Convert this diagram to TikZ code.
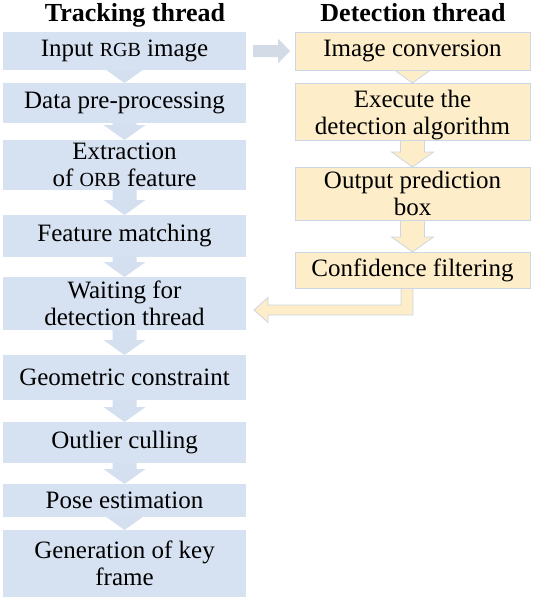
\documentclass[tikz,border=0pt]{standalone}
\usepackage{fontspec}
\setmainfont{Liberation Serif}
\newfontfamily\tnrfont{Liberation Serif}
\usetikzlibrary{calc}
\pgfdeclarelayer{bg}
\pgfsetlayers{bg,main}
\definecolor{bluebox}{HTML}{D6E1F1}
\definecolor{bluearrow}{HTML}{D4DFF0}
\definecolor{yellowbox}{HTML}{FDEDC9}
\definecolor{yellowline}{HTML}{CDD6E4}
\definecolor{greyarrow}{HTML}{D3DBE6}
\tikzset{
  boxbase/.style={inner sep=0pt, outer sep=0pt, align=center, font=\tnrfont\fontsize{25}{27.5}\selectfont, text=black},
  tbox/.style={boxbase, fill=bluebox, minimum width=243pt},
  dbox/.style={boxbase, fill=yellowbox, draw=yellowline, line width=0.8pt, minimum width=235pt},
  titletext/.style={font=\tnrfont\fontsize{26}{28}\selectfont\bfseries, inner sep=0pt, anchor=base},
  barrow/.style={fill=bluearrow},
  yarrow/.style={fill=yellowbox, draw=yellowline, line width=0.8pt},
  harrow/.style={fill=greyarrow},
}
\newcommand\smallcaps[1]{{\fontsize{20}{20}\selectfont #1}}
\newcommand\blockdown[3]{%
  \path[#1] let \p1=(#2.south), \p2=(#3.north) in
    ({\x2-12pt},{\y1+4pt}) -- ({\x2-12pt},{\y2+15pt}) -- ({\x2-21pt},{\y2+15pt}) --
    (\x2,\y2) -- ({\x2+21pt},{\y2+15pt}) -- ({\x2+12pt},{\y2+15pt}) --
    ({\x2+12pt},{\y1+4pt}) -- cycle;}
\begin{document}
\begin{tikzpicture}[x=1pt,y=-1pt]
\useasboundingbox (0,0) rectangle (533,598);
% titles
\node[titletext] (tt) at (135,21) {Tracking thread};
\node[titletext] (dt) at (413,21) {Detection thread};
% tracking thread
\node[tbox, minimum height=38pt] (t1) at (124.5,51) {Input \smallcaps{RGB} image};
\node[tbox, minimum height=40pt] (t2) at (124.5,103) {Data pre-processing};
\node[tbox, minimum height=50pt] (t3) at (124.5,165) {Extraction\\of \smallcaps{ORB} feature};
\node[tbox, minimum height=42pt] (t4) at (124.5,236) {Feature matching};
\node[tbox, minimum height=53pt] (t5) at (124.5,303.5) {Waiting for\\detection thread};
\node[tbox, minimum height=45pt] (t6) at (124.5,377.5) {Geometric constraint};
\node[tbox, minimum height=41pt] (t7) at (124.5,442.5) {Outlier culling};
\node[tbox, minimum height=33pt] (t8) at (124.5,500.5) {Pose estimation};
\node[tbox, minimum height=67pt] (t9) at (124.5,563.5) {Generation of key\\frame};
% detection thread
\node[dbox, minimum height=38pt] (d1) at (412.5,51) {Image conversion};
\node[dbox, minimum height=57pt] (d2) at (412.5,111.5) {\rule{0pt}{24pt}Execute the\\detection algorithm};
\node[dbox, minimum height=53pt] (d3) at (412.5,193.5) {Output prediction\\box};
\node[dbox, minimum height=36pt] (d4) at (412.5,270) {Confidence filtering};
\begin{pgfonlayer}{bg}
  \blockdown{barrow}{t1}{t2}
  \blockdown{barrow}{t2}{t3}
  \blockdown{barrow}{t3}{t4}
  \blockdown{barrow}{t4}{t5}
  \blockdown{barrow}{t5}{t6}
  \blockdown{barrow}{t6}{t7}
  \blockdown{barrow}{t7}{t8}
  \blockdown{barrow}{t8}{t9}
  \blockdown{yarrow}{d1}{d2}
  \blockdown{yarrow}{d2}{d3}
  \blockdown{yarrow}{d3}{d4}
  % input -> image conversion
  \path[harrow] let \p1=(t1.east), \p2=(d1.west) in
    ({\x1+7pt},{\y2+6pt}) -- ({\x2-17pt},{\y2+6pt}) -- ({\x2-17pt},{\y2+12.5pt}) --
    ({\x2-5pt},\y2) -- ({\x2-17pt},{\y2-12.5pt}) -- ({\x2-17pt},{\y2-6pt}) --
    ({\x1+7pt},{\y2-6pt}) -- cycle;
  % confidence filtering -> waiting
  \path[yarrow] let \p1=(d4.south), \p2=(t5.east) in
    ({\x1+0.5pt},{\y1+4pt}) -- ({\x1+0.5pt},{\y1-27pt}) -- ({\x2+22pt},{\y1-27pt}) --
    ({\x2+22pt},{\y1-34.5pt}) -- ({\x2+8pt},{\y1-22pt}) -- ({\x2+22pt},{\y1-9.5pt}) --
    ({\x2+22pt},{\y1-17pt}) -- ({\x1-11.5pt},{\y1-17pt}) -- ({\x1-11.5pt},{\y1+4pt}) -- cycle;
\end{pgfonlayer}
\end{tikzpicture}
\end{document}
